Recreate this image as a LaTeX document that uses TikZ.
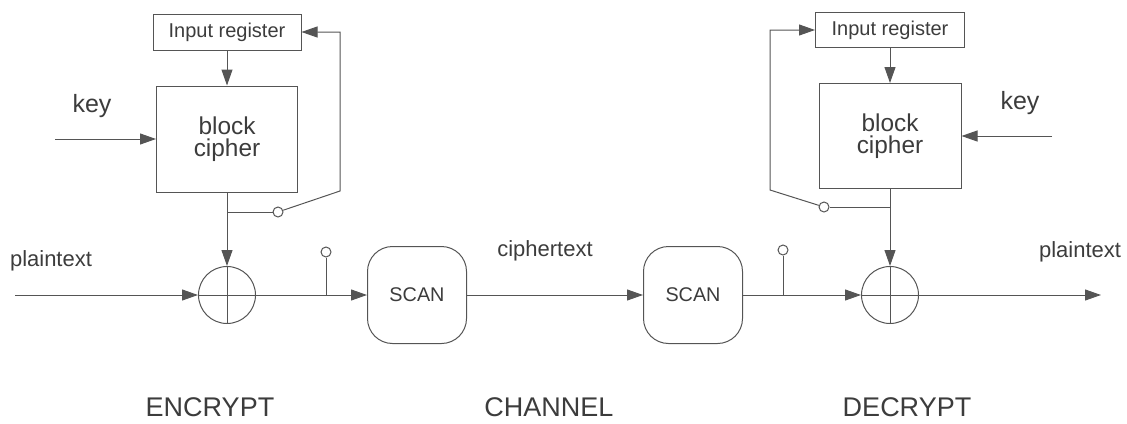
\documentclass[tikz,border=0pt]{standalone}
\usepackage{fontspec}
\setmainfont{Liberation Sans}
\usetikzlibrary{arrows.meta}
\definecolor{linegray}{HTML}{555555}
\definecolor{textgray}{HTML}{3C3C3C}
\newcommand{\fs}[1]{\fontsize{#1}{#1}\selectfont}
\begin{document}
\begin{tikzpicture}[x=1pt, y=-1pt,
        line width=1pt, draw=linegray, text=textgray,
        arr/.style={-{Triangle[length=16pt, width=11pt]}},
        box/.style={draw, rectangle, inner sep=0pt},
        xorc/.style={draw, circle, minimum size=57pt, inner sep=0pt},
        tapc/.style={draw, circle, minimum size=10pt, inner sep=0pt, fill=white},
        scanbox/.style={draw, rectangle, rounded corners=25pt, minimum width=99pt, minimum height=97pt, font=\fs{19.8}},
        lbl/.style={font=\fs{22}}]
    \useasboundingbox (0,0) rectangle (1127,423);

    % encrypt side
    \node[box, minimum width=148pt, minimum height=36pt, font=\fs{20}] (regL) at (227,32) {Input register};
    \node[box, minimum width=141pt, minimum height=106pt, font=\fs{24.4}, align=center] (bcL) at (227,139) {block\\[-2pt]cipher};
    \node[xorc] (xorL) at (227,295) {};
    \draw (xorL.north) -- (xorL.south);
    \draw (xorL.west) -- (xorL.east);
    \node[tapc] (swL) at (278,212) {};
    \node[tapc] (tapL) at (326,252) {};
    \coordinate (fbL) at (340,191);
    \coordinate (keyinL) at (55,139);
    \coordinate (ptin) at (15,295);
    \node[font=\fs{25}] (keyL) at (92,106) {key};
    \node[lbl] (ptL) at (51,261) {plaintext};

    % channel
    \node[scanbox] (scanL) at (417,295) {SCAN};
    \node[scanbox] (scanR) at (693,295) {SCAN};
    \node[lbl] (ctext) at (545,251) {ciphertext};

    % decrypt side
    \node[box, minimum width=149pt, minimum height=35pt, font=\fs{20}] (regR) at (890,30) {Input register};
    \node[box, minimum width=142pt, minimum height=105pt, font=\fs{24.4}, align=center] (bcR) at (890,136) {block\\[-2pt]cipher};
    \node[xorc] (xorR) at (890,295) {};
    \draw (xorR.north) -- (xorR.south);
    \draw (xorR.west) -- (xorR.east);
    \node[tapc] (swR) at (824,207) {};
    \node[tapc] (tapR) at (783,250) {};
    \coordinate (fbR) at (770,190);
    \coordinate (keyinR) at (1052,136);
    \coordinate (ptout) at (1101,295);
    \node[font=\fs{25}] (keyR) at (1020,103) {key};
    \node[lbl] (ptR) at (1080,252) {plaintext};

    % connectors
    \draw[arr] (regL) -- (bcL);
    \draw[arr] (keyinL) -- (bcL.west);
    \draw[arr] (bcL) -- (xorL);
    \draw (bcL.south |- swL) -- (swL);
    \draw[arr] (swL) -- (fbL) |- (regL.east);
    \draw[arr] (ptin) -- (xorL.west);
    \draw[arr] (xorL.east) -- (scanL.west);
    \draw (tapL) -- (tapL |- xorL.east);
    \draw[arr] (scanL) -- (scanR);
    \draw[arr] (scanR.east) -- (xorR.west);
    \draw (tapR) -- (tapR |- xorR.west);
    \draw[arr] (regR) -- (bcR);
    \draw[arr] (keyinR) -- (bcR.east);
    \draw[arr] (bcR) -- (xorR);
    \draw (bcR.south |- swR) -- (swR);
    \draw[arr] (swR) -- (fbR) |- (regR.west);
    \draw[arr] (xorR.east) -- (ptout);

    \foreach \name/\t/\x in {enc/ENCRYPT/210, chan/CHANNEL/549, dec/DECRYPT/907} {
        \node[font=\fs{27}] (\name) at (\x,407) {\t};
    }
\end{tikzpicture}
\end{document}
